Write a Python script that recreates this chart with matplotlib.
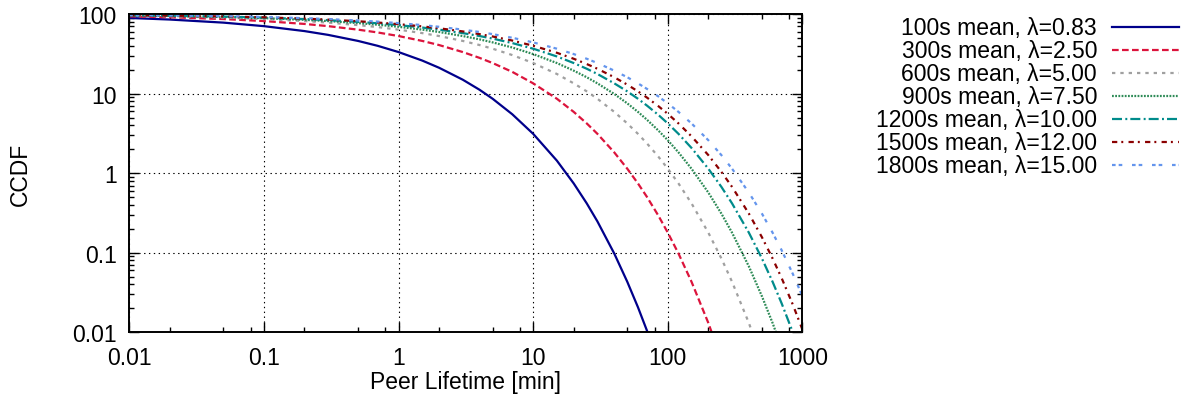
import matplotlib
matplotlib.use("Agg")
import matplotlib.pyplot as plt
from matplotlib.lines import Line2D
from matplotlib.ticker import LogLocator, FixedLocator, NullFormatter

# peer lifetime in minutes (sample points)
lifetime = [0.01, 0.02, 0.05, 0.1, 0.2, 0.3, 0.5, 0.7, 1, 1.5,
            2, 3, 4, 5, 7, 10, 15, 20, 25, 30,
            40, 50, 60, 70, 85, 100, 120, 150, 200, 250,
            300, 400, 500, 600, 700, 850, 1000]

# CCDF values in percent, one list per curve (each stops once below 0.01)
ccdf_100 = [89.6, 85.6, 78.3, 70.7, 61.3, 54.9, 46.1, 40.0, 33.4, 26.1,
            21.2, 15.0, 11.2, 8.64, 5.51, 3.13, 1.44, 0.745, 0.418, 0.248,
            0.0980, 0.0432, 0.0207, 0.0105, 0.00411]
ccdf_300 = [93.9, 91.4, 86.8, 81.9, 75.4, 70.7, 63.9, 58.9, 53.1, 46.1,
            40.9, 33.4, 28.2, 24.3, 18.8, 13.5, 8.64, 5.91, 4.23, 3.13,
            1.83, 1.14, 0.745, 0.504, 0.294, 0.179, 0.0980, 0.0432, 0.0131,
            0.00454]
ccdf_600 = [95.6, 93.9, 90.5, 86.8, 81.9, 78.3, 72.9, 68.8, 63.9, 57.8,
            53.1, 46.1, 40.9, 36.8, 30.6, 24.3, 17.7, 13.5, 10.7, 8.64,
            5.91, 4.23, 3.13, 2.37, 1.62, 1.14, 0.745, 0.418, 0.179, 0.0849,
            0.0432, 0.0131, 0.00454]
ccdf_900 = [96.4, 95.0, 92.2, 89.1, 84.9, 81.9, 77.2, 73.7, 69.4, 63.9,
            59.7, 53.1, 48.2, 44.2, 38.1, 31.5, 24.3, 19.5, 16.1, 13.5,
            9.93, 7.56, 5.91, 4.71, 3.45, 2.60, 1.83, 1.14, 0.572, 0.311,
            0.179, 0.0674, 0.0284, 0.0131, 0.00637]
ccdf_1200 = [96.9, 95.6, 93.2, 90.5, 86.8, 84.1, 80.0, 76.8, 72.9, 67.9,
             63.9, 57.8, 53.1, 49.3, 43.3, 36.8, 29.4, 24.3, 20.6, 17.7,
             13.5, 10.7, 8.64, 7.09, 5.42, 4.23, 3.13, 2.08, 1.14, 0.674,
             0.418, 0.179, 0.0849, 0.0432, 0.0232, 0.00991]
ccdf_1500 = [97.2, 96.0, 93.7, 91.3, 87.9, 85.4, 81.5, 78.5, 74.9, 70.2,
             66.5, 60.7, 56.1, 52.4, 46.6, 40.1, 32.7, 27.5, 23.6, 20.6,
             16.1, 13.0, 10.7, 8.94, 6.98, 5.58, 4.23, 2.91, 1.69, 1.04,
             0.674, 0.311, 0.157, 0.0849, 0.0482, 0.0221, 0.0108]
ccdf_1800 = [97.5, 96.4, 94.4, 92.2, 89.1, 86.8, 83.3, 80.6, 77.2, 72.9,
             69.4, 63.9, 59.7, 56.1, 50.5, 44.2, 36.8, 31.5, 27.5, 24.3,
             19.5, 16.1, 13.5, 11.5, 9.25, 7.56, 5.91, 4.23, 2.60, 1.69,
             1.14, 0.572, 0.311, 0.179, 0.108, 0.0538, 0.0284]

labels = ["100s mean, λ=0.83", "300s mean, λ=2.50", "600s mean, λ=5.00",
          "900s mean, λ=7.50", "1200s mean, λ=10.00",
          "1500s mean, λ=12.00", "1800s mean, λ=15.00"]
series = [ccdf_100, ccdf_300, ccdf_600, ccdf_900, ccdf_1200, ccdf_1500,
          ccdf_1800]

x_ticks = [0.01, 0.1, 1, 10, 100, 1000]
x_tick_labels = ["0.01", "0.1", "1", "10", "100", "1000"]
y_ticks = [0.01, 0.1, 1, 10, 100]
y_tick_labels = ["0.01", "0.1", "1", "10", "100"]

colors = ["#00008b", "#dc143c", "#a0a0a0", "#2e8b57", "#008b8b",
          "#8b0000", "#6495ed"]
dashes = [None, (4.8, 2.4), (2.4, 3.6), (1.3, 1.0), (7.2, 2.4, 1.4, 2.2),
          (3.8, 2.9, 1.4, 3.8), (2.6, 2.2, 2.6, 7.0)]

plt.rcParams["font.family"] = ["Liberation Sans", "DejaVu Sans"]
plt.rcParams["font.size"] = 16.5
plt.rcParams["lines.scale_dashes"] = False

fig = plt.figure(figsize=(11.89, 4.10), dpi=100)
ax = fig.add_axes([0.1087, 0.187, 0.5662, 0.776])


def style(line, i):
    line.set_color(colors[i])
    line.set_linewidth(1.6)
    if dashes[i] is not None:
        line.set_dashes(dashes[i])
        line.set_dash_capstyle("butt")


for i, y in enumerate(series):
    ln, = ax.plot(lifetime[:len(y)], y)
    style(ln, i)

ax.set_xscale("log")
ax.set_yscale("log")
ax.set_xlim(0.01, 1000)
ax.set_ylim(0.01, 100)

ax.xaxis.set_major_locator(FixedLocator(x_ticks))
ax.set_xticklabels(x_tick_labels)
ax.xaxis.set_minor_locator(LogLocator(base=10, subs=[2, 5, 8]))
ax.xaxis.set_minor_formatter(NullFormatter())
ax.yaxis.set_major_locator(FixedLocator(y_ticks))
ax.set_yticklabels(y_tick_labels)
ax.yaxis.set_minor_locator(LogLocator(base=10, subs=range(2, 10)))
ax.yaxis.set_minor_formatter(NullFormatter())

ax.tick_params(which="both", direction="in", top=True, right=True,
               width=1.0, color="black")
ax.tick_params(which="major", length=7)
ax.tick_params(which="minor", length=3.5)
ax.tick_params(axis="x", pad=10)
ax.tick_params(axis="y", pad=9)
for sp in ax.spines.values():
    sp.set_linewidth(1.4)

ax.grid(True, which="major", color="black", linewidth=0.8,
        linestyle=(0, (1, 2.5)))

ax.set_xlabel("Peer Lifetime [min]")
ax.xaxis.label.set_va("center")
ax.xaxis.set_label_coords(0.5, -0.156)
ax.set_ylabel("CCDF")
ax.yaxis.label.set_va("center")
ax.yaxis.set_label_coords(-0.1624, 0.5)

# gnuplot-style key: text on the left, sample on the right
W, H = 1189, 410
for i, lab in enumerate(labels):
    yp = 28.3 + i * 23.0
    fig.text(1097 / W, 1 - yp / H, lab, ha="right", va="center")
    ln = Line2D([1112 / W, 1179 / W], [1 - yp / H, 1 - yp / H],
                transform=fig.transFigure)
    style(ln, i)
    fig.add_artist(ln)

fig.savefig("out.png", dpi=100)
